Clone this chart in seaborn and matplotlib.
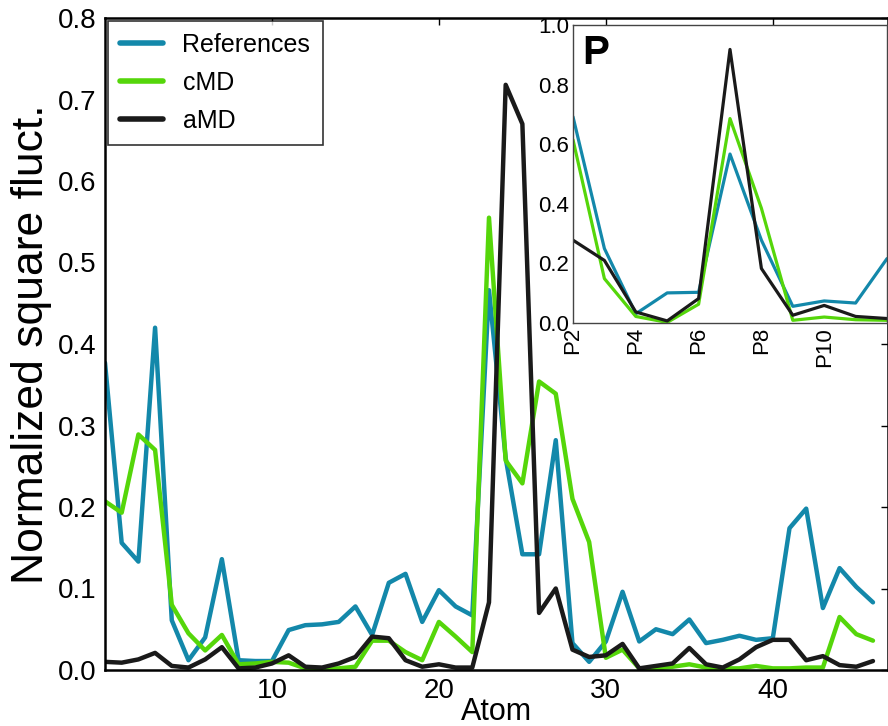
import pandas as pd
import seaborn as sns
import matplotlib.pyplot as plt
import numpy as np

# Data
atoms = list(range(47))
references = [0.377, 0.156, 0.133, 0.420, 0.061, 0.012, 0.040, 0.136, 0.012, 0.011,
              0.011, 0.049, 0.055, 0.056, 0.059, 0.078, 0.043, 0.107, 0.118, 0.059,
              0.098, 0.078, 0.067, 0.466, 0.260, 0.142, 0.142, 0.282, 0.033, 0.010,
              0.035, 0.096, 0.035, 0.050, 0.044, 0.062, 0.033, 0.037, 0.042, 0.037,
              0.039, 0.174, 0.198, 0.076, 0.125, 0.102, 0.083]
cmd = [0.207, 0.193, 0.289, 0.270, 0.080, 0.045, 0.024, 0.043, 0.007, 0.008,
       0.010, 0.009, 0.002, 0.002, 0.002, 0.004, 0.036, 0.036, 0.022, 0.012,
       0.059, 0.041, 0.022, 0.555, 0.257, 0.229, 0.354, 0.339, 0.210, 0.157,
       0.015, 0.025, 0.002, 0.002, 0.004, 0.007, 0.003, 0.002, 0.002, 0.005,
       0.002, 0.002, 0.003, 0.003, 0.065, 0.044, 0.036]
amd = [0.010, 0.009, 0.013, 0.021, 0.005, 0.003, 0.013, 0.028, 0.002, 0.003,
       0.008, 0.018, 0.004, 0.003, 0.008, 0.016, 0.041, 0.039, 0.012, 0.004,
       0.007, 0.003, 0.003, 0.083, 0.718, 0.670, 0.070, 0.100, 0.025, 0.016,
       0.018, 0.032, 0.002, 0.005, 0.008, 0.027, 0.007, 0.003, 0.013, 0.028,
       0.037, 0.037, 0.012, 0.017, 0.006, 0.004, 0.011]

# Inset: phosphorus atoms P2..P12
p_pos = [2, 3, 4, 5, 6, 7, 8, 9, 10, 11, 12]
p_ticks = [2, 4, 6, 8, 10]
p_ticklabels = ["P2", "P4", "P6", "P8", "P10"]
p_references = [0.692, 0.250, 0.031, 0.101, 0.103, 0.567, 0.278, 0.056, 0.074, 0.067, 0.216]
p_cmd = [0.615, 0.149, 0.022, 0.002, 0.063, 0.686, 0.385, 0.009, 0.020, 0.011, 0.009]
p_amd = [0.278, 0.210, 0.037, 0.007, 0.082, 0.918, 0.183, 0.026, 0.059, 0.022, 0.015]

methods = ["References", "cMD", "aMD"]
colors = {"References": "#1388aa", "cMD": "#55d60a", "aMD": "#1a1a1a"}

sns.set_style("white")
plt.rcParams['font.family'] = ['Liberation Sans', 'DejaVu Sans']
for key in ["text.color", "axes.labelcolor", "xtick.color", "ytick.color"]:
    plt.rcParams[key] = "black"

df = pd.DataFrame({
    "atom": atoms * 3,
    "value": references + cmd + amd,
    "method": ["References"] * len(atoms) + ["cMD"] * len(atoms) + ["aMD"] * len(atoms),
})
df_p = pd.DataFrame({
    "pos": p_pos * 3,
    "value": p_references + p_cmd + p_amd,
    "method": ["References"] * len(p_pos) + ["cMD"] * len(p_pos) + ["aMD"] * len(p_pos),
})

fig = plt.figure(figsize=(8.88, 7.26), dpi=100)
ax = fig.add_axes([105 / 888, 56 / 726, 783 / 888, 652 / 726])

sns.lineplot(data=df, x="atom", y="value", hue="method", hue_order=methods,
             palette=colors, linewidth=3.2, ax=ax, sort=False)
ax.set_xlim(0, 46.9)
ax.set_ylim(0, 0.8)
ax.set_xticks([10, 20, 30, 40])
ax.set_yticks([0.0, 0.1, 0.2, 0.3, 0.4, 0.5, 0.6, 0.7, 0.8])
ax.set_yticklabels(["0.0", "0.1", "0.2", "0.3", "0.4", "0.5", "0.6", "0.7", "0.8"])
ax.tick_params(direction="in", top=True, right=True, length=5, width=1,
               labelsize=20, pad=6)
ax.set_xlabel("Atom", fontsize=22, labelpad=-5)
ax.set_ylabel("Normalized square fluct.", fontsize=32, labelpad=4)
for s in ax.spines.values():
    s.set_color("black")
    s.set_linewidth(1.8)

leg = ax.legend(loc="upper left", fontsize=18, frameon=True, fancybox=False,
                edgecolor="black", handlelength=1.7, labelspacing=0.55,
                borderaxespad=0.1, borderpad=0.5, handletextpad=0.8)
leg.get_frame().set_linewidth(1.2)
for line in leg.get_lines():
    line.set_linewidth(4)

# Inset
axin = fig.add_axes([573 / 888, (726 - 323) / 726, 314 / 888, 298 / 726])
sns.lineplot(data=df_p, x="pos", y="value", hue="method", hue_order=methods,
             palette=colors, linewidth=2.3, ax=axin, sort=False, legend=False)
axin.set_xlim(2, 12)
axin.set_ylim(0, 1.0)
axin.set_xticks(p_ticks)
axin.set_xticklabels(p_ticklabels, rotation=90)
axin.set_yticks([0.0, 0.2, 0.4, 0.6, 0.8, 1.0])
axin.set_yticklabels(["0.0", "0.2", "0.4", "0.6", "0.8", "1.0"])
axin.tick_params(direction="in", length=4, labelsize=16, pad=3)
axin.set_xlabel("")
axin.set_ylabel("")
for s in axin.spines.values():
    s.set_color("#444444")
    s.set_linewidth(1)
axin.text(0.03, 0.97, "P", transform=axin.transAxes, fontsize=29,
          fontweight="bold", va="top", ha="left")

fig.savefig("out.png", dpi=100)
